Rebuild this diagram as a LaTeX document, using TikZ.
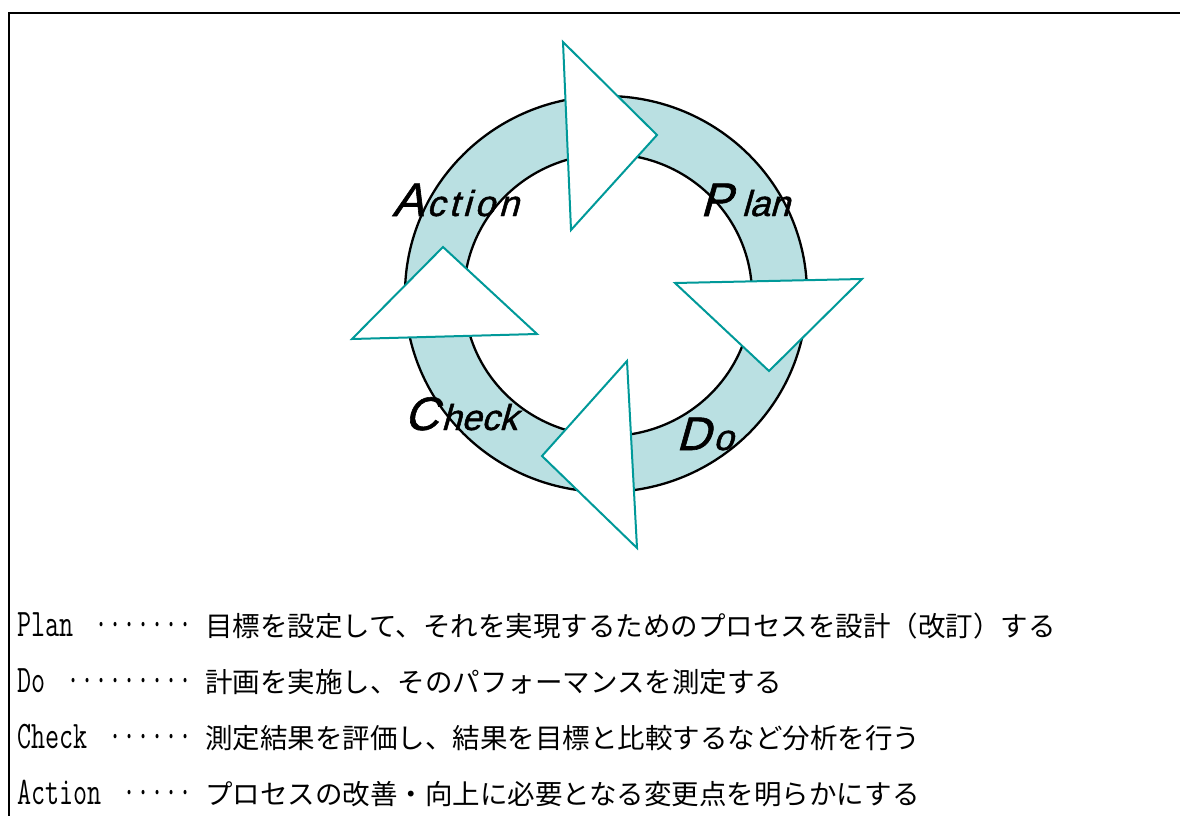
\documentclass[tikz,border=0pt]{standalone}
\usepackage{fontspec}
\usepackage{graphicx}
\newfontfamily\labfont[FakeSlant=0.28, FakeBold=1.3]{Liberation Sans}
\newfontfamily\jpfont{Noto Sans CJK JP}
\definecolor{ringfill}{RGB}{186,224,226}
\definecolor{tealline}{RGB}{0,153,153}
\newcommand\narrowtt[1]{\scalebox{0.7}[1]{\ttfamily\fontsize{39}{39}\selectfont #1}}
\tikzset{
  tri/.style={draw=tealline, line width=2pt, fill=white, line join=miter},
  ringline/.style={draw=black, line width=2.3pt},
  biglab/.style={anchor=base west, inner sep=0pt, font=\labfont},
  lat/.style={anchor=base west, inner sep=0pt},
  dotsnode/.style={anchor=base east, inner sep=0pt},
  jp/.style={anchor=base west, inner sep=0pt, font=\jpfont\fontsize{27.5}{27.5}\selectfont},
}
\begin{document}
\begin{tikzpicture}[x=1pt,y=-1pt]
\useasboundingbox (0,0) rectangle (1180,816);
\fill[white] (0,0) rectangle (1180,816);
\begin{scope}
  \clip (0,0) rectangle (1180,816);
  \draw[line width=2pt] (9,13) rectangle (1200,840);
\end{scope}
% ring
\fill[ringfill, even odd rule] (606,294) ellipse [x radius=201pt, y radius=198pt]
      (608,295) ellipse [x radius=144pt, y radius=141pt];
\draw[ringline] (606,294) ellipse [x radius=201pt, y radius=198pt];
\draw[ringline] (608,295) ellipse [x radius=144pt, y radius=141pt];
% arrow heads
\draw[tri] (563,42) -- (657,135) -- (571,230) -- cycle;
\draw[tri] (675,283) -- (862,279) -- (769,371) -- cycle;
\draw[tri] (627,361) -- (542,456) -- (637,548) -- cycle;
\draw[tri] (443,247) -- (537,334) -- (352,339) -- cycle;
% labels
\node[biglab] (lblA) at (392,216) {{\fontsize{47}{47}\selectfont A}\kern3pt{\fontsize{36}{36}\selectfont\addfontfeature{LetterSpace=11}ction}};
\node[biglab] (lblP) at (700,216) {{\fontsize{47}{47}\selectfont P}\hspace{10pt}{\fontsize{36}{36}\selectfont lan}};
\node[biglab] (lblC) at (404,430) {{\fontsize{47}{47}\selectfont C}\kern3pt{\fontsize{36}{36}\selectfont heck}};
\node[biglab] (lblD) at (676,450) {{\fontsize{47}{47}\selectfont D}\kern3pt{\fontsize{36}{36}\selectfont o}};
% description
\node[lat] (pl) at (17,636) {\narrowtt{Plan}};
\node[dotsnode] (pd) at (193,636) {\narrowtt{·······}};
\node[jp] (pj) at (205,636) {目標を設定して、それを実現するためのプロセスを設計（改訂）する};
\node[lat] (dl) at (17,692) {\narrowtt{Do}};
\node[dotsnode] (dd) at (193,692) {\narrowtt{·········}};
\node[jp] (dj) at (205,692) {計画を実施し、そのパフォーマンスを測定する};
\node[lat] (cl) at (17,748) {\narrowtt{Check}};
\node[dotsnode] (cd) at (193,748) {\narrowtt{······}};
\node[jp] (cj) at (205,748) {測定結果を評価し、結果を目標と比較するなど分析を行う};
\node[lat] (al) at (17,804) {\narrowtt{Action}};
\node[dotsnode] (ad) at (193,804) {\narrowtt{·····}};
\node[jp] (aj) at (205,804) {プロセスの改善・向上に必要となる変更点を明らかにする};
\end{tikzpicture}
\end{document}
